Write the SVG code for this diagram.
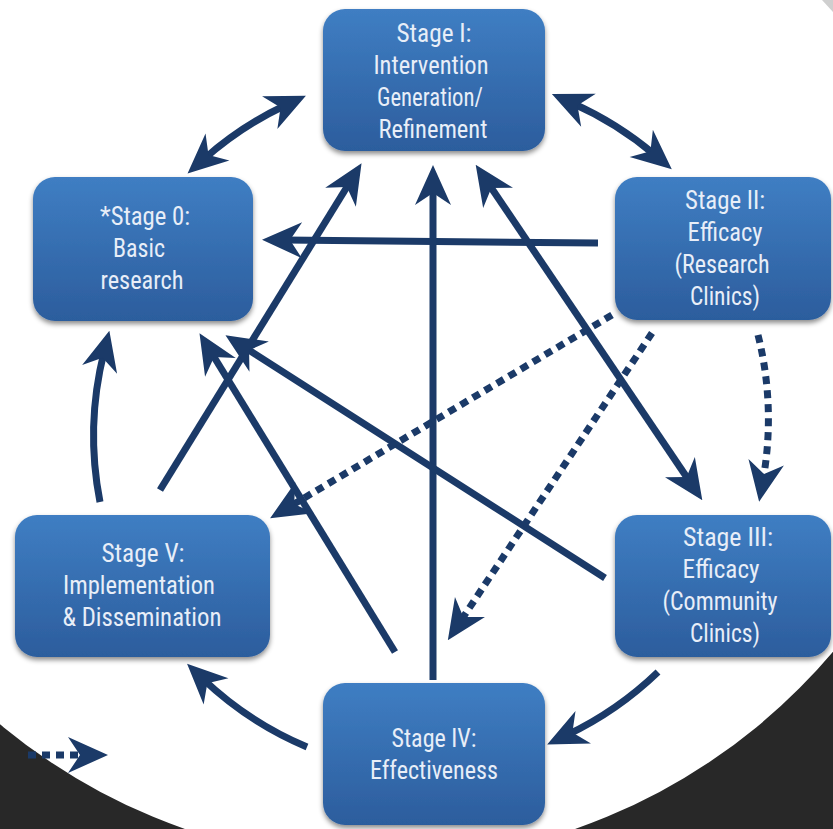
<svg xmlns="http://www.w3.org/2000/svg" width="833" height="829" viewBox="0 0 833 829">
<style>
.box{fill:url(#bg);filter:url(#sh);}
.lbl{font-family:"Roboto Condensed","Liberation Sans Narrow","Liberation Sans",Arial,sans-serif;font-size:25px;fill:#e8eef8;text-anchor:middle;}
.c{fill:none;stroke:#1b3a68;stroke-width:7;}
.d{fill:none;stroke:#1b3a68;stroke-width:7;stroke-dasharray:8 6;}
.h{marker-end:url(#ah);}
.hh{marker-start:url(#ah);marker-end:url(#ah);}
</style>
<defs>
<linearGradient id="bg" x1="0" y1="0" x2="0" y2="1">
<stop offset="0" stop-color="#3f7ec3"/>
<stop offset="1" stop-color="#2c5d9d"/>
</linearGradient>
<filter id="sh" x="-10%" y="-10%" width="120%" height="130%">
<feDropShadow dx="0" dy="3" stdDeviation="2.5" flood-color="#000" flood-opacity="0.45"/>
</filter>
<marker id="ah" viewBox="0 -20 42 40" markerWidth="42" markerHeight="40" refX="20" refY="0" markerUnits="userSpaceOnUse" orient="auto-start-reverse">
<path d="M42,0 L2,-18 L14,0 L2,18 Z" fill="#1b3a68"/>
</marker>
</defs>
<rect width="833" height="829" fill="#ffffff"/>
<path d="M0,0H833V829H0Z M-213,269 a593,593 0 1,0 1186,0 a593,593 0 1,0 -1186,0Z" fill-rule="evenodd" fill="#282828"/>
<polygon points="822,0 833,0 833,12" fill="#cfcfcf"/>
<g id="connectors">
<path class="c hh" d="M204,159 A345,345 0 0 1 286,105"/>
<path class="c hh" d="M572,103 A345,345 0 0 1 655,155"/>
<path class="d h" d="M758,335 A345,345 0 0 1 763,480"/>
<path class="c h" d="M658,672 A345,345 0 0 1 567,735"/>
<path class="c h" d="M307,747 A345,345 0 0 1 203,679"/>
<path class="c h" d="M100,502 A345,345 0 0 1 104,352"/>
<path class="d h" d="M28,755 L86,755"/>
<path class="c h" d="M598,243 L284,240"/>
<path class="c h" d="M160,490 L350,182"/>
<path class="c h" d="M433,680 L433,187"/>
<path class="c h" d="M395,652 L211,352"/>
<path class="c h" d="M605,578 L244,347"/>
<path class="c hh" d="M488,183 L690,482"/>
<path class="d h" d="M612,315 L289,507"/>
<path class="d h" d="M652,333 L460,622"/>
</g>
<g id="stage1">
<rect class="box" x="323" y="9" width="222" height="142" rx="22"/>
<text class="lbl" x="434" y="42" textLength="75" lengthAdjust="spacingAndGlyphs">Stage I:</text>
<text class="lbl" x="431" y="74" textLength="115" lengthAdjust="spacingAndGlyphs">Intervention</text>
<text class="lbl" x="430" y="106" textLength="106" lengthAdjust="spacingAndGlyphs">Generation/</text>
<text class="lbl" x="433" y="138" textLength="109" lengthAdjust="spacingAndGlyphs">Refinement</text>
</g>
<g id="stage0">
<rect class="box" x="33" y="177" width="220" height="144" rx="22"/>
<text class="lbl" x="145" y="225" textLength="90" lengthAdjust="spacingAndGlyphs">*Stage 0:</text>
<text class="lbl" x="139" y="257" textLength="52" lengthAdjust="spacingAndGlyphs">Basic</text>
<text class="lbl" x="142" y="289" textLength="83" lengthAdjust="spacingAndGlyphs">research</text>
</g>
<g id="stage2">
<rect class="box" x="615" y="177" width="216" height="143" rx="22"/>
<text class="lbl" x="725" y="209" textLength="80" lengthAdjust="spacingAndGlyphs">Stage II:</text>
<text class="lbl" x="725" y="241" textLength="75" lengthAdjust="spacingAndGlyphs">Efficacy</text>
<text class="lbl" x="722" y="273" textLength="95" lengthAdjust="spacingAndGlyphs">(Research</text>
<text class="lbl" x="725" y="305" textLength="70" lengthAdjust="spacingAndGlyphs">Clinics)</text>
</g>
<g id="stage3">
<rect class="box" x="615" y="515" width="216" height="142" rx="22"/>
<text class="lbl" x="728" y="546" textLength="90" lengthAdjust="spacingAndGlyphs">Stage III:</text>
<text class="lbl" x="721" y="578" textLength="77" lengthAdjust="spacingAndGlyphs">Efficacy</text>
<text class="lbl" x="720" y="610" textLength="115" lengthAdjust="spacingAndGlyphs">(Community</text>
<text class="lbl" x="725" y="642" textLength="70" lengthAdjust="spacingAndGlyphs">Clinics)</text>
</g>
<g id="stage5">
<rect class="box" x="15" y="515" width="255" height="142" rx="22"/>
<text class="lbl" x="143" y="562" textLength="83" lengthAdjust="spacingAndGlyphs">Stage V:</text>
<text class="lbl" x="139" y="594" textLength="152" lengthAdjust="spacingAndGlyphs">Implementation</text>
<text class="lbl" x="142" y="626" textLength="159" lengthAdjust="spacingAndGlyphs">&amp; Dissemination</text>
</g>
<g id="stage4">
<rect class="box" x="323" y="683" width="222" height="142" rx="22"/>
<text class="lbl" x="434" y="747" textLength="85" lengthAdjust="spacingAndGlyphs">Stage IV:</text>
<text class="lbl" x="434" y="779" textLength="128" lengthAdjust="spacingAndGlyphs">Effectiveness</text>
</g>
</svg>
